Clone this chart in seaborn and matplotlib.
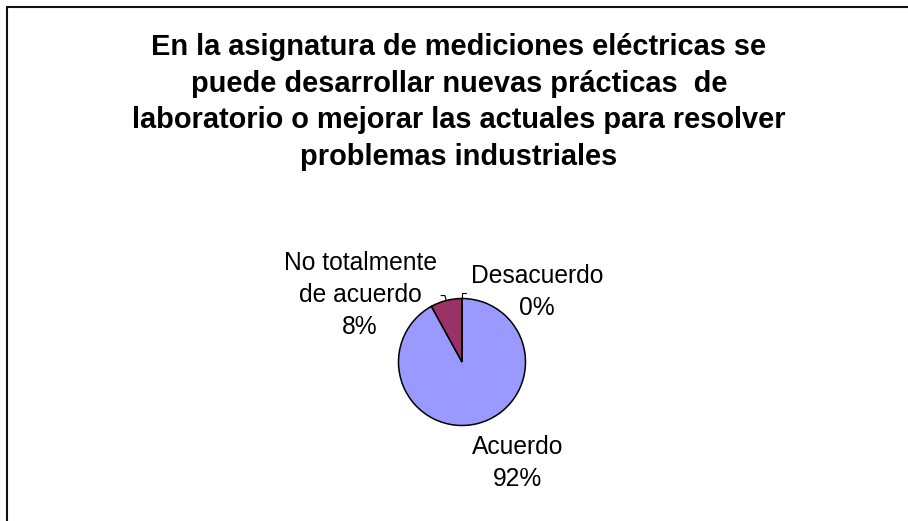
import matplotlib
matplotlib.use("Agg")
import matplotlib.pyplot as plt
from matplotlib.lines import Line2D
import numpy as np
import seaborn as sns

# ---- data -------------------------------------------------------------
title_lines = [
    "En la asignatura de mediciones eléctricas se",
    "puede desarrollar nuevas prácticas  de",
    "laboratorio o mejorar las actuales para resolver",
    "problemas industriales",
]
categories = ["Acuerdo", "No totalmente de acuerdo", "Desacuerdo"]
label_lines = [["Acuerdo"], ["No totalmente", "de acuerdo"], ["Desacuerdo"]]
values = [92, 8, 0]
slice_colors = ["#9999FF", "#993366", "#FFFFCC"]

# ---- canvas -----------------------------------------------------------
W, H = 908, 521
sns.set_theme(style="white")
plt.rcParams["font.family"] = ["Liberation Sans", "DejaVu Sans"]

fig = plt.figure(figsize=(W / 100, H / 100), dpi=100)
fig.patch.set_facecolor("white")


def fx(px):
    return px / W


def fy(py):
    return 1 - py / H


# chart-area frame (left and top edges)
frame_kw = dict(transform=fig.transFigure, color="#111111", lw=1.5)
fig.add_artist(Line2D([fx(7), fx(7)], [fy(7), fy(530)], **frame_kw))
fig.add_artist(Line2D([fx(7), fx(920)], [fy(7), fy(7)], **frame_kw))


def draw_lines(lines, x, first_baseline, size, spacing, weight="normal"):
    for k, line in enumerate(lines):
        fig.text(fx(x), fy(first_baseline + k * spacing), line,
                 ha="center", va="baseline", fontsize=size,
                 fontweight=weight, color="black")


# title
draw_lines(title_lines, 459, 55, 20.9, 36.7, weight="bold")

# ---- pie ----------------------------------------------------------------
cx, cy, r = 462, 362, 63.5
pad = 1.3
ax = fig.add_axes([fx(cx - r * pad), fy(cy + r * pad),
                   2 * r * pad / W, 2 * r * pad / H])
palette = sns.color_palette(slice_colors)
wedges, _ = ax.pie(values, colors=palette, startangle=90, counterclock=False,
                   wedgeprops=dict(edgecolor="black", linewidth=1.1))
ax.set_xlim(-pad, pad)
ax.set_ylim(-pad, pad)
ax.set_aspect("equal")
ax.axis("off")

# short leader ticks for the two small slices
for w, side in zip(wedges[1:], [-1, 1]):
    mid = np.deg2rad((w.theta1 + w.theta2) / 2)
    x0, y0 = np.cos(mid), np.sin(mid)
    x1, y1 = 1.08 * x0, 1.08 * y0
    ax.plot([x0, x1, x1 + side * 0.06], [y0, y1, y1],
            color="black", lw=0.8, clip_on=False)

# slice labels
label_pos = [(518, 454), (360, 270), (537, 283)]
for lines, v, (lx, ly) in zip(label_lines, values, label_pos):
    draw_lines(lines + [f"{v}%"], lx, ly, 17.7, 32)

fig.savefig("out.png", dpi=100, facecolor="white")
